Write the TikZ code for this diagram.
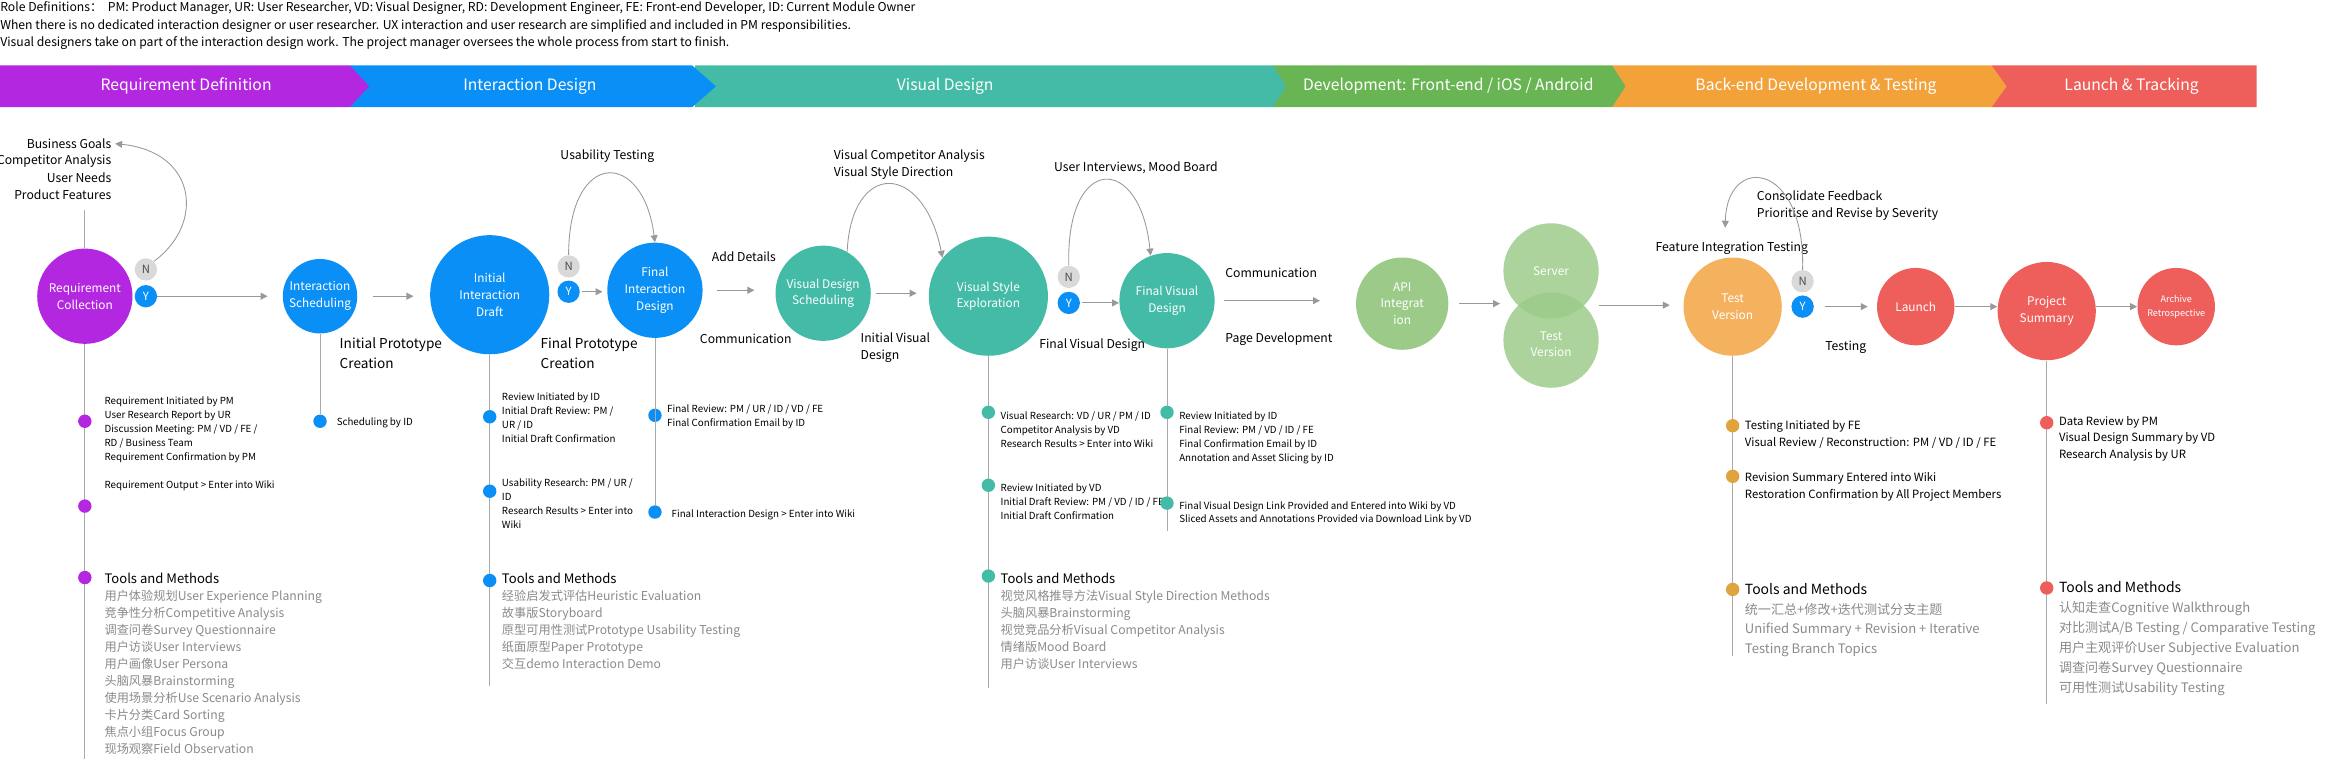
\documentclass[tikz,border=0pt]{standalone}
\usepackage{fontspec}
\setmainfont{Noto Sans CJK SC}
\usetikzlibrary{arrows.meta, calc, positioning}
\definecolor{reqpurple}{HTML}{B327E0}
\definecolor{ixblue}{HTML}{0A8FF6}
\definecolor{visteal}{HTML}{43BBA7}
\definecolor{devgreen}{HTML}{6AB553}
\definecolor{beorange}{HTML}{F3A23A}
\definecolor{lnred}{HTML}{EE5E5A}
\definecolor{apigreen}{HTML}{9CCB89}
\definecolor{tvorange}{HTML}{F4B25F}
\definecolor{dotorange}{HTML}{E0A43E}
\definecolor{badgegray}{HTML}{D9D9D9}
\definecolor{arrowgray}{HTML}{999999}
\definecolor{stemgray}{HTML}{AAAAAA}
\definecolor{toolgray}{HTML}{8A8A8A}
\tikzset{
  stage/.style={circle, fill=#1, text=white, inner sep=0pt, align=center, font=\fontsize{6.8}{9.6}\selectfont},
  badge/.style={circle, fill=#1, inner sep=0pt, minimum size=0.45cm, font=\fontsize{6.5}{7}\selectfont},
  dot/.style={circle, fill=#1, inner sep=0pt, minimum size=0.27cm},
  flow/.style={draw=arrowgray, line width=0.6pt, -{Triangle[length=4pt,width=4pt]}},
  loopback/.style={draw=arrowgray, line width=0.5pt, -{Triangle[length=4pt,width=4pt]}},
  stem/.style={draw=stemgray, line width=0.4pt},
  note/.style={anchor=north west, inner sep=0pt, align=left, font=\fontsize{5.6}{8}\selectfont},
  bignote/.style={anchor=north west, inner sep=0pt, align=left, font=\fontsize{6.5}{9.4}\selectfont},
  tools/.style={anchor=north west, inner sep=0pt, align=left, text=toolgray, font=\fontsize{7}{9.7}\selectfont},
  bigtools/.style={anchor=north west, inner sep=0pt, align=left, text=toolgray, font=\fontsize{7.5}{11.4}\selectfont},
  caption/.style={inner sep=0pt, align=left, font=\fontsize{7}{9.6}\selectfont},
  phase/.style={text=white, font=\fontsize{9}{10}\selectfont},
}
\begin{document}
\begin{tikzpicture}[x=0.03cm, y=-0.03cm]
    \useasboundingbox (0,0) rectangle (1568,510.6);
    % Role definitions
    \node[caption, anchor=west, font=\fontsize{7}{8}\selectfont] (role1) at (0,5.6) {Role Definitions：\ \ PM: Product Manager, UR: User Researcher, VD: Visual Designer, RD: Development Engineer, FE: Front-end Developer, ID: Current Module Owner};
    \node[caption, anchor=west, font=\fontsize{7}{8}\selectfont] (role2) at (0,17.2) {When there is no dedicated interaction designer or user researcher. UX interaction and user research are simplified and included in PM responsibilities.};
    \node[caption, anchor=west, font=\fontsize{7}{8}\selectfont] (role3) at (0,28.7) {Visual designers take on part of the interaction design work. The project manager oversees the whole process from start to finish.};
    % Phase banner
    \foreach \xa/\xb/\xt/\col/\lab in {1338/1516/1516/lnred/Launch \& Tracking,
        1083/1338/1348/beorange/Back-end Development \& Testing,
        855/1083/1092/devgreen/Development: Front-end / iOS / Android,
        467/855/864/visteal/Visual Design,
        235/465/481/ixblue/Interaction Design,
        0/235/248/reqpurple/Requirement Definition}
    {
        \fill[\col] (\xa,44) -- (\xb,44) -- (\xt,58) -- (\xb,72) -- (\xa,72) -- cycle;
    }
    \node[phase] (ph1) at (125,58) {Requirement Definition};
    \node[phase] (ph2) at (356,58) {Interaction Design};
    \node[phase] (ph3) at (635,58) {Visual Design};
    \node[phase] (ph4) at (973,58) {Development: Front-end / iOS / Android};
    \node[phase] (ph5) at (1220,58) {Back-end Development \& Testing};
    \node[phase] (ph6) at (1432,58) {Launch \& Tracking};
    % Stages
    \node[stage=reqpurple, minimum size=1.92cm] (rc) at (57,199) {Requirement\\Collection};
    \node[badge=badgegray, text=black!70] (rcN) at (98,181) {N};
    \node[badge=ixblue, text=white] (rcY) at (98,199) {Y};
    \node[stage=ixblue, minimum size=1.5cm] (is) at (215,199) {Interaction\\Scheduling};
    \node[stage=ixblue, minimum size=2.4cm] (iid) at (329,198) {Initial\\Interaction\\Draft};
    \node[badge=badgegray, text=black!70] (iidN) at (382,179) {N};
    \node[badge=ixblue, text=white] (iidY) at (382,196) {Y};
    \node[stage=ixblue, minimum size=1.92cm] (fid) at (440,195) {Final\\Interaction\\Design};
    \node[stage=visteal, minimum size=1.92cm] (vds) at (553,197) {Visual Design\\Scheduling};
    \node[stage=visteal, minimum size=2.4cm] (vse) at (664,199) {Visual Style\\Exploration};
    \node[badge=badgegray, text=black!70] (fvdN) at (718,186) {N};
    \node[badge=ixblue, text=white] (fvdY) at (718,203.5) {Y};
    \node[stage=visteal, minimum size=1.92cm] (fvd) at (784,202) {Final Visual\\Design};
    \node[stage=apigreen, minimum size=1.86cm] (api) at (942,204) {API\\Integrat\\ion};
    \node[stage=apigreen, fill opacity=0.85, text opacity=1, minimum size=1.92cm] (srv) at (1042,182) {Server};
    \node[stage=apigreen, fill opacity=0.85, text opacity=1, minimum size=1.92cm] (tsv) at (1042,228.5) {\\Test\\Version};
    \node[stage=tvorange, minimum size=1.98cm] (tv) at (1164,206) {Test\\Version};
    \node[badge=badgegray, text=black!70] (tvN) at (1211,189) {N};
    \node[badge=ixblue, text=white] (tvY) at (1211,206) {Y};
    \node[stage=lnred, minimum size=1.56cm] (lau) at (1287,206) {Launch};
    \node[stage=lnred, minimum size=1.98cm] (ps) at (1375,209) {Project\\Summary};
    \node[stage=lnred, minimum size=1.56cm, font=\fontsize{5.2}{8}\selectfont] (arc) at (1462,206) {Archive\\Retrospective};
    % Flow arrows
    \draw[flow] (rcY.east) -- ($(rcY -| is.west)+(-10,0)$);
    \draw[flow, shorten <=9pt] (is.east) -- ($(is -| iid.west)+(-11,0)$);
    \draw[flow, shorten <=1pt] (iidY.east) -- ($(iidY -| fid.west)+(-3,0)$);
    \draw[flow, shorten <=8pt] (fid.east) -- ($(fid -| vds.west)+(-14,0)$);
    \draw[flow, shorten <=3pt] (vds.east) -- ($(vds -| vse.west)+(-8,0)$);
    \draw[flow, shorten <=1pt] (fvdY.east) -- (fvdY -| fvd.west);
    \draw[flow, shorten <=5pt] (fvd.east) -- ($(fvd -| api.west)+(-24,0)$);
    \draw[flow, shorten <=6pt] (api.east) -- ($(api -| srv.west)+(-2,0)$);
    \coordinate (pair) at (1074,205);
    \draw[flow] (pair) -- ($(pair -| tv.west)+(-9,0)$);
    \draw[flow, shorten <=6pt] (tvY.east) -- ($(tvY -| lau.west)+(-6,0)$);
    \draw[flow] (lau.east) -- (lau -| ps.west);
    \draw[flow] (ps.east |- arc) -- (arc.west);
    % Labels along the flow
    \node[caption, anchor=east] (bg) at (75,96.5) {Business Goals};
    \node[caption, anchor=east] (ca) at (75,108) {Competitor Analysis};
    \node[caption, anchor=east] (un) at (75,119.4) {User Needs};
    \node[caption, anchor=east] (pf) at (75,130.8) {Product Features};
    \draw[stem] (57,141) -- (rc.north);
    \node[caption, font=\fontsize{7.8}{11.5}\selectfont, anchor=west] (ipc) at (228,237) {Initial Prototype\\Creation};
    \node[caption, font=\fontsize{7.8}{11.5}\selectfont, anchor=west] (fpc) at (363,237.5) {Final Prototype\\Creation};
    \node[caption] (ut) at (408,105) {Usability Testing};
    \node[caption, anchor=west] (ad) at (478,172.5) {Add Details};
    \node[caption, anchor=west] (cm1) at (470,227.6) {Communication};
    \node[caption, anchor=west] (vca) at (560,110.5) {Visual Competitor Analysis\\Visual Style Direction};
    \node[caption, anchor=west] (ivd) at (578,233.5) {Initial Visual\\Design};
    \node[caption, anchor=west] (uimb) at (708,113) {User Interviews, Mood Board};
    \node[caption, anchor=west] (fvdl) at (698,232) {Final Visual Design};
    \node[caption, anchor=west] (cm2) at (823,183) {Communication};
    \node[caption, anchor=west] (pd) at (823,228) {Page Development};
    \node[caption, anchor=west] (fit) at (1112,167) {Feature Integration Testing};
    \node[caption, anchor=west] (cf) at (1180,138) {Consolidate Feedback\\Prioritise and Revise by Severity};
    \node[caption, anchor=west] (tst) at (1226,233) {Testing};
    % Loops back
    \draw[loopback] (rcN.north east) .. controls (138,150) and (132,102) .. ([xshift=2pt]bg.east);
    \draw[loopback] (iidN.north) .. controls (382,100) and (432,100) .. (fid.north);
    \draw[loopback] (vds.60) .. controls (572,108) and (620,108) .. (vse.140);
    \draw[loopback] (fvdN.north) .. controls (716,103) and (766,103) .. (fvd.110);
    \coordinate (tvback) at (1159,153);
    \draw[loopback] (tvN.north) .. controls (1213,108) and (1160,103) .. (tvback);
    % Requirement Collection timeline
    \draw[stem] (rc.south) -- (57,510);
    \node[dot=reqpurple] (rc1) at (57,283) {};
    \node[dot=reqpurple] (rc2) at (57,340) {};
    \node[dot=reqpurple] (rc3) at (57,388) {};
    \node[note] (rcn1) at (70,266.5) {Requirement Initiated by PM\\User Research Report by UR\\Discussion Meeting: PM / VD / FE /\\RD / Business Team\\Requirement Confirmation by PM};
    \node[note] (rcn2) at (70,322.5) {Requirement Output > Enter into Wiki};
    \node[tools] (rct) at (70,385) {{\color{black}\fontsize{7.5}{9.7}\selectfont Tools and Methods}\\用户体验规划User Experience Planning\\竞争性分析Competitive Analysis\\调查问卷Survey Questionnaire\\用户访谈User Interviews\\用户画像User Persona\\头脑风暴Brainstorming\\使用场景分析Use Scenario Analysis\\卡片分类Card Sorting\\焦点小组Focus Group\\现场观察Field Observation};
    % Interaction Scheduling timeline
    \node[dot=ixblue] (is1) at (215,283) {};
    \draw[stem] (is.south) -- (is1);
    \node[note] (isn1) at (226,280.5) {Scheduling by ID};
    % Initial Interaction Draft timeline
    \draw[stem] (iid.south) -- (329,461);
    \node[dot=ixblue] (iid1) at (329,280) {};
    \node[dot=ixblue] (iid2) at (329,330) {};
    \node[dot=ixblue] (iid3) at (329,390) {};
    \node[note] (iidn1) at (337,263.5) {Review Initiated by ID\\Initial Draft Review: PM /\\UR / ID\\Initial Draft Confirmation};
    \node[note] (iidn2) at (337,321.5) {Usability Research: PM / UR /\\ID\\Research Results > Enter into\\Wiki};
    \node[tools] (iidt) at (337,385) {{\color{black}\fontsize{7.5}{9.7}\selectfont Tools and Methods}\\经验启发式评估Heuristic Evaluation\\故事版Storyboard\\原型可用性测试Prototype Usability Testing\\纸面原型Paper Prototype\\交互demo Interaction Demo};
    % Final Interaction Design timeline
    \node[dot=ixblue] (fid1) at (440,279) {};
    \node[dot=ixblue] (fid2) at (440,344) {};
    \draw[stem] (fid.south) -- (fid2);
    \node[note] (fidn1) at (448,271.5) {Final Review: PM / UR / ID / VD / FE\\Final Confirmation Email by ID};
    \node[note] (fidn2) at (451,342.5) {Final Interaction Design > Enter into Wiki};
    % Visual Style Exploration timeline
    \draw[stem] (vse.south) -- (664,462);
    \node[dot=visteal] (vse1) at (664,277) {};
    \node[dot=visteal] (vse2) at (664,326) {};
    \node[dot=visteal] (vse3) at (664,387) {};
    \node[note] (vsen1) at (672,276.5) {Visual Research: VD / UR / PM / ID\\Competitor Analysis by VD\\Research Results > Enter into Wiki};
    \node[note] (vsen2) at (672,324.5) {Review Initiated by VD\\Initial Draft Review: PM / VD / ID / FE\\Initial Draft Confirmation};
    \node[tools] (vset) at (672,385) {{\color{black}\fontsize{7.5}{9.7}\selectfont Tools and Methods}\\视觉风格推导方法Visual Style Direction Methods\\头脑风暴Brainstorming\\视觉竞品分析Visual Competitor Analysis\\情绪版Mood Board\\用户访谈User Interviews};
    % Final Visual Design timeline
    \draw[stem] (fvd.south) -- (784,357);
    \node[dot=visteal] (fvd1) at (784,277) {};
    \node[dot=visteal] (fvd2) at (784,338) {};
    \node[note] (fvdn1) at (792,276.5) {Review Initiated by ID\\Final Review: PM / VD / ID / FE\\Final Confirmation Email by ID\\Annotation and Asset Slicing by ID};
    \node[note] (fvdn2) at (792,336.5) {Final Visual Design Link Provided and Entered into Wiki by VD\\Sliced Assets and Annotations Provided via Download Link by VD};
    % Test Version timeline
    \draw[stem] (tv.south) -- (1164,441);
    \node[dot=dotorange] (tv1) at (1164,286) {};
    \node[dot=dotorange] (tv2) at (1164,320) {};
    \node[dot=dotorange] (tv3) at (1164,396) {};
    \node[bignote] (tvn1) at (1172,282.5) {Testing Initiated by FE\\Visual Review / Reconstruction: PM / VD / ID / FE};
    \node[bignote] (tvn2) at (1172,317.5) {Revision Summary Entered into Wiki\\Restoration Confirmation by All Project Members};
    \node[bigtools] (tvt) at (1172,391.5) {{\color{black}\fontsize{8}{11.4}\selectfont Tools and Methods}\\统一汇总+修改+迭代测试分支主题\\Unified Summary + Revision + Iterative\\Testing Branch Topics};
    % Project Summary timeline
    \draw[stem] (ps.south) -- (1375,473);
    \node[dot=lnred] (ps1) at (1375,284) {};
    \node[dot=lnred] (ps2) at (1375,395) {};
    \node[bignote] (psn1) at (1383,279.5) {Data Review by PM\\Visual Design Summary by VD\\Research Analysis by UR};
    \node[bigtools] (pst) at (1383,390.5) {{\color{black}\fontsize{8}{11.4}\selectfont Tools and Methods}\\认知走查Cognitive Walkthrough\\对比测试A/B Testing / Comparative Testing\\用户主观评价User Subjective Evaluation\\调查问卷Survey Questionnaire\\可用性测试Usability Testing};
\end{tikzpicture}
\end{document}
